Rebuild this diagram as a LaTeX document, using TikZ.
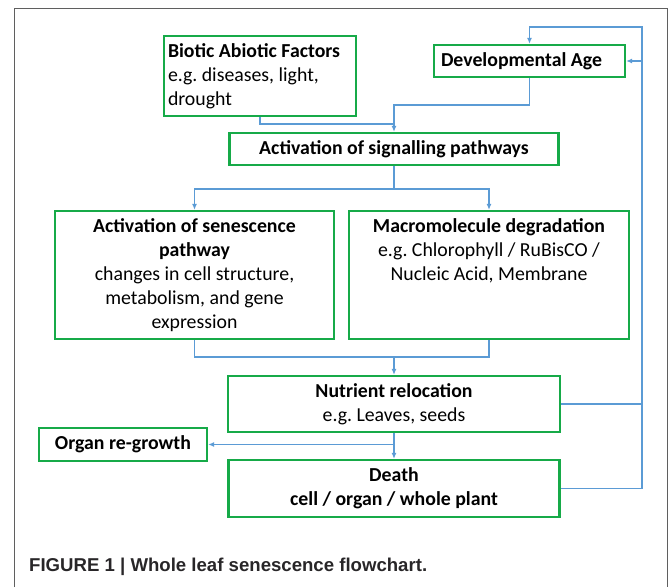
\documentclass[tikz,border=0pt]{standalone}
\usepackage{fontspec}
\setmainfont{Carlito}
\newfontfamily\capfont{Liberation Sans}
\usetikzlibrary{calc}
\usetikzlibrary{arrows.meta}
\definecolor{boxgreen}{RGB}{22,170,72}
\definecolor{linkblue}{RGB}{91,155,213}
\definecolor{framegray}{RGB}{95,95,95}
\definecolor{captext}{RGB}{40,38,40}
\tikzset{
 box/.style={draw=boxgreen,line width=2.2pt,inner sep=0pt,align=flush center,font=\fontsize{19.8}{24}\selectfont\frenchspacing},
 link/.style={draw=linkblue,line width=1.6pt},
 linkarrow/.style={link,-{Latex[length=6pt,width=5pt]}}
}
\begin{document}
\begin{tikzpicture}[x=1pt,y=-1pt]
\useasboundingbox (0,0) rectangle (669,587);
\draw[framegray,line width=1pt] (14,587)--(14,8)--(667,8)--(667,587);
% boxes
\node[box,minimum width=192pt,minimum height=80pt,text width=184pt,align=flush left] (bio) at (260,76) {\textbf{Biotic Abiotic Factors}\\e.g. diseases, light,\\drought};
\node[box,minimum width=191pt,minimum height=32pt,text width=177pt,align=flush left] (dev) at (529.5,61) {\textbf{Developmental Age}};
\node[box,minimum width=329pt,minimum height=32pt] (sig) at (394,149) {\textbf{Activation of signalling pathways}};
\node[box,minimum width=279pt,minimum height=128pt] (sen) at (194.5,275) {\textbf{Activation of senescence}\\\textbf{pathway}\\ changes in cell structure,\\metabolism, and gene\\expression};
\node[box,minimum width=280pt,text height=69pt,text depth=59pt] (mac) at (489,275) {\textbf{Macromolecule degradation}\\e.g. Chlorophyll / RuBisCO /\\Nucleic Acid, Membrane};
\node[box,minimum width=332pt,minimum height=56pt] (nut) at (394,404) {\textbf{Nutrient relocation}\\e.g. Leaves, seeds};
\node[box,minimum width=168pt,minimum height=33pt] (org) at (123,444.5) {\textbf{Organ re-growth}};
\node[box,minimum width=331pt,minimum height=57pt] (dea) at (394,488.5) {\textbf{Death}\\\textbf{cell / organ / whole plant}};
% junctions
\coordinate (j1) at (394,124);
\coordinate (j2) at (394,105);
\coordinate (j3) at (394,357);
\coordinate (j4) at (394,444.5);
\coordinate (tr) at (642,27);
% connectors
\draw[link] (bio.south) |- (j1);
\draw[linkarrow] (dev.south) |- (j2) -- (sig.north);
\draw[linkarrow] (sig.south) -- ++(0,23) -| (sen.north);
\draw[linkarrow] (sig.south) -- ++(0,23) -| (mac.north);
\draw[link] (sen.south) |- (j3);
\draw[link] (mac.south) |- (j3);
\draw[linkarrow] (j3) -- (nut.north);
\draw[linkarrow] (nut.south) -- (dea.north);
\draw[linkarrow] (j4) -- (org.east);
\draw[linkarrow] (dea.east) -| (tr) -| (dev.north);
\draw[link] (nut.east) -- (nut.east -| tr);
\draw[linkarrow] (dev.east -| tr) -- (dev.east);
% caption
\node[anchor=west,inner sep=0pt,text=captext,font=\capfont\fontsize{18.6}{20}\selectfont\bfseries] (cap) at (29,567) {FIGURE 1 | Whole leaf senescence flowchart.};
\end{tikzpicture}
\end{document}
